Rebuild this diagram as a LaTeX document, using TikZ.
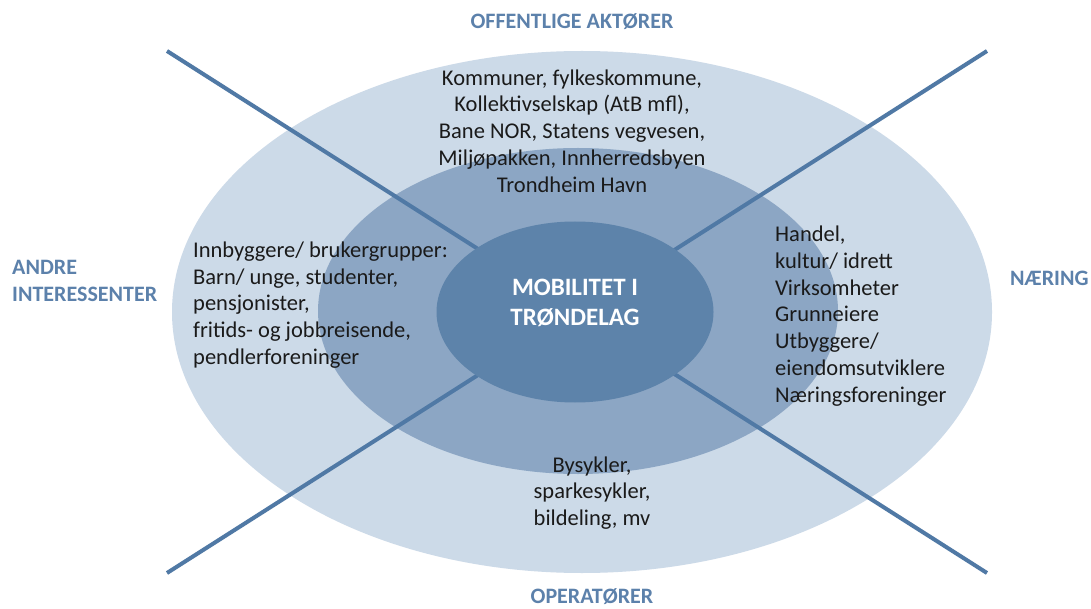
\documentclass[tikz,border=0pt]{standalone}
\usepackage{fontspec}
\setmainfont{Carlito}
\definecolor{outerfill}{HTML}{CCDAE8}
\definecolor{midfill}{HTML}{8CA6C4}
\definecolor{innerfill}{HTML}{5D83AA}
\definecolor{linecol}{HTML}{5079A5}
\definecolor{titlecol}{HTML}{5C81AB}
\definecolor{bodycol}{HTML}{1A1A1A}
\tikzset{
  ring/.style={ellipse, draw=none, inner sep=0pt},
  axisline/.style={draw=linecol, line width=4pt},
  title/.style={font=\fontsize{22}{27}\selectfont\bfseries, text=titlecol, inner sep=0pt},
  body/.style={font=\fontsize{22.5}{26.8}\selectfont, text=bodycol, inner sep=0pt},
  centre/.style={font=\fontsize{25}{30}\selectfont\bfseries, text=white, inner sep=0pt, align=center}
}
\usetikzlibrary{shapes.geometric}
\begin{document}
\begin{tikzpicture}[x=1pt,y=-1pt]
\useasboundingbox (0,0) rectangle (1091,609);
\fill[white] (0,0) rectangle (1091,609);
% rings
\fill[outerfill] (582,312) ellipse [x radius=410, y radius=261];
\fill[midfill] (578,311) ellipse [x radius=260, y radius=163];
% axis lines
\coordinate (tl) at (167,51);
\coordinate (br) at (987,573);
\coordinate (tr) at (987,51);
\coordinate (bl) at (167,573);
\draw[axisline] (tl) -- (br);
\draw[axisline] (tr) -- (bl);
% inner
\node[ring, fill=innerfill, minimum width=277pt, minimum height=181pt] (core) at (575,312) {};
\node[centre] (coretext) at (575,303) {MOBILITET I\\TRØNDELAG};
% titles
\node[title] (offtitle) at (572,22) {OFFENTLIGE AKTØRER};
\node[title, align=left, anchor=west] (andre) at (12,281) {ANDRE\\INTERESSENTER};
\node[title, anchor=west] (naering) at (1010,278) {NÆRING};
\node[title] (operat) at (592,597) {OPERATØRER};
% body texts
\node[body, align=center] (offtext) at (572,131) {Kommuner, fylkeskommune,\\Kollektivselskap (AtB mfl),\\Bane NOR, Statens vegvesen,\\Miljøpakken, Innherredsbyen\\Trondheim Havn};
\node[body, align=left, anchor=west] (lefttext) at (193,305) {Innbyggere/ brukergrupper:\\Barn/ unge, studenter,\\pensjonister,\\fritids- og jobbreisende,\\pendlerforeninger};
\node[body, align=left, anchor=west] (righttext) at (775,316) {Handel,\\kultur/ idrett\\Virksomheter\\Grunneiere\\Utbyggere/\\eiendomsutviklere\\Næringsforeninger};
\node[body, align=center] (bottext) at (592,493) {Bysykler,\\sparkesykler,\\bildeling, mv};
\end{tikzpicture}
\end{document}
